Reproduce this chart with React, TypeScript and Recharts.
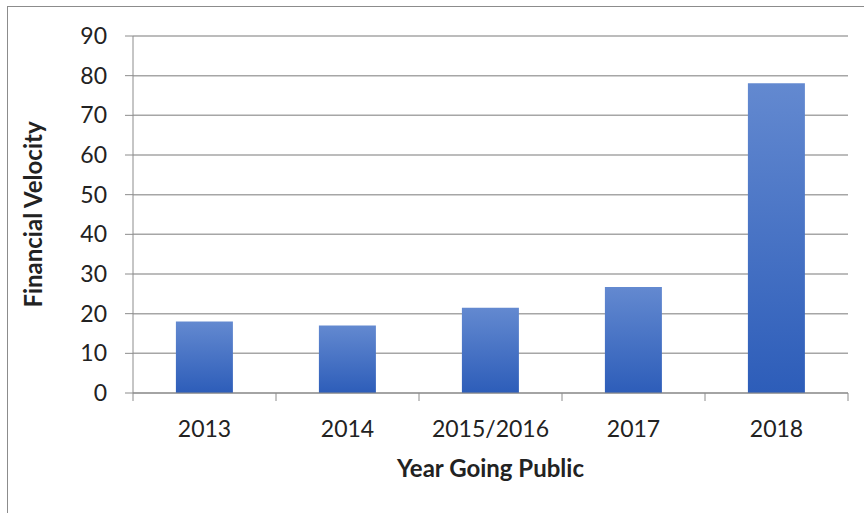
import { BarChart, Bar, XAxis, YAxis, CartesianGrid, Label } from 'recharts';

const years = ['2013', '2014', '2015/2016', '2017', '2018'];
const velocity = [18, 17, 21.5, 26.7, 78.1];
const yTicks = [0, 10, 20, 30, 40, 50, 60, 70, 80, 90];

const data = years.map((year, i) => ({ year, velocity: velocity[i] }));

const FONT = 'Lato, "Open Sans", sans-serif';

function YearTick(props: any) {
  const { x, payload, index, visibleTicksCount, width } = props;
  const cw = width / visibleTicksCount;
  const top = 393;
  return (
    <g>
      <line x1={x - cw / 2} x2={x - cw / 2} y1={top} y2={top + 8} stroke="#8c8c8c" />
      {index === visibleTicksCount - 1 && (
        <line x1={x + cw / 2} x2={x + cw / 2} y1={top} y2={top + 8} stroke="#8c8c8c" />
      )}
      <text x={x} y={437} textAnchor="middle" fill="#222" fontSize={23} fontFamily={FONT}>
        {payload.value}
      </text>
    </g>
  );
}

export default function App() {
  return (
    <div style={{ position: 'absolute', left: 0, top: 0, width: 864, height: 513, overflow: 'hidden', background: '#fff' }}>
      <div
        style={{
          position: 'absolute',
          left: 7,
          top: 6,
          width: 880,
          height: 530,
          border: '1px solid #8c8c8c',
        }}
      />
      <BarChart
        width={864}
        height={513}
        data={data}
        margin={{ top: 36, right: 16, left: 0, bottom: 0 }}
        barCategoryGap="30%"
        style={{ position: 'absolute', left: 0, top: 0 }}
      >
        <defs>
          <linearGradient id="barFill" x1="0" y1="0" x2="0" y2="1">
            <stop offset="0%" stopColor="#6389d0" />
            <stop offset="100%" stopColor="#2d5db9" />
          </linearGradient>
        </defs>
        <CartesianGrid vertical={false} stroke="#a6a6a6" strokeWidth={1.5} />
        <XAxis
          dataKey="year"
          height={120}
          tickLine={false}
          axisLine={{ stroke: '#8c8c8c' }}
          tick={<YearTick />}
          interval={0}
        >
          <Label
            value="Year Going Public"
            position="insideTop"
            offset={67}
            fill="#222"
            fontSize={24}
            fontWeight="bold"
            fontFamily={FONT}
          />
        </XAxis>
        <YAxis
          width={133}
          domain={[0, 90]}
          ticks={yTicks}
          interval={0}
          tickSize={8}
          tickMargin={18}
          tickLine={{ stroke: '#8c8c8c' }}
          axisLine={{ stroke: '#8c8c8c' }}
          tick={{ fill: '#222', fontSize: 23, fontFamily: FONT }}
        >
          <Label
            value="Financial Velocity"
            angle={-90}
            position="insideLeft"
            offset={33}
            style={{ textAnchor: 'middle' }}
            fill="#222"
            fontSize={24}
            fontWeight="bold"
            fontFamily={FONT}
          />
        </YAxis>
        <Bar dataKey="velocity" fill="url(#barFill)" isAnimationActive={false} />
      </BarChart>
    </div>
  );
}
